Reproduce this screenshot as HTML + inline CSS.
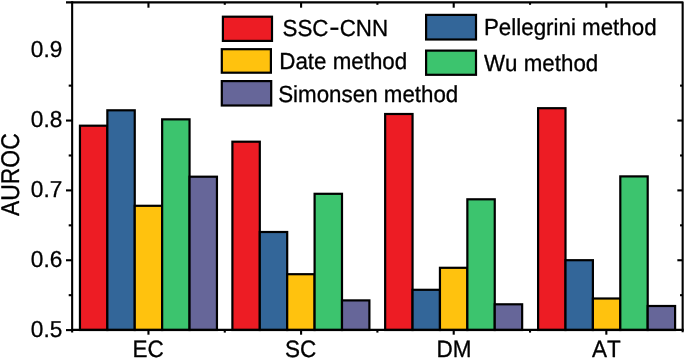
<!DOCTYPE html>
<html><head><meta charset="utf-8"><style>
html,body{margin:0;padding:0;background:#fff;width:685px;height:359px;overflow:hidden;font-family:"Liberation Sans",sans-serif;}
svg{display:block;will-change:transform;text-rendering:geometricPrecision}
text{font-kerning:none;font-feature-settings:"kern" 0;stroke:#000;stroke-width:0.3px;stroke-linejoin:round}
</style></head><body>
<svg width="685" height="359" viewBox="0 0 685 359">
<rect x="0" y="0" width="685" height="359" fill="#fff"/>
<rect x="79.95" y="125.70" width="27.40" height="204.30" fill="#ED1C24" stroke="#000" stroke-width="2.2"/>
<rect x="107.35" y="110.30" width="27.40" height="219.70" fill="#336699" stroke="#000" stroke-width="2.2"/>
<rect x="134.75" y="205.80" width="27.40" height="124.20" fill="#FFC20E" stroke="#000" stroke-width="2.2"/>
<rect x="162.15" y="119.35" width="27.40" height="210.65" fill="#3CC46E" stroke="#000" stroke-width="2.2"/>
<rect x="189.55" y="176.70" width="27.40" height="153.30" fill="#666699" stroke="#000" stroke-width="2.2"/>
<rect x="232.40" y="141.70" width="27.40" height="188.30" fill="#ED1C24" stroke="#000" stroke-width="2.2"/>
<rect x="259.80" y="232.00" width="27.40" height="98.00" fill="#336699" stroke="#000" stroke-width="2.2"/>
<rect x="287.20" y="274.20" width="27.40" height="55.80" fill="#FFC20E" stroke="#000" stroke-width="2.2"/>
<rect x="314.60" y="193.80" width="27.40" height="136.20" fill="#3CC46E" stroke="#000" stroke-width="2.2"/>
<rect x="342.00" y="300.40" width="27.40" height="29.60" fill="#666699" stroke="#000" stroke-width="2.2"/>
<rect x="385.15" y="114.00" width="27.40" height="216.00" fill="#ED1C24" stroke="#000" stroke-width="2.2"/>
<rect x="412.55" y="289.80" width="27.40" height="40.20" fill="#336699" stroke="#000" stroke-width="2.2"/>
<rect x="439.95" y="267.80" width="27.40" height="62.20" fill="#FFC20E" stroke="#000" stroke-width="2.2"/>
<rect x="467.35" y="199.30" width="27.40" height="130.70" fill="#3CC46E" stroke="#000" stroke-width="2.2"/>
<rect x="494.75" y="304.30" width="27.40" height="25.70" fill="#666699" stroke="#000" stroke-width="2.2"/>
<rect x="538.10" y="108.20" width="27.40" height="221.80" fill="#ED1C24" stroke="#000" stroke-width="2.2"/>
<rect x="565.50" y="260.20" width="27.40" height="69.80" fill="#336699" stroke="#000" stroke-width="2.2"/>
<rect x="592.90" y="298.50" width="27.40" height="31.50" fill="#FFC20E" stroke="#000" stroke-width="2.2"/>
<rect x="620.30" y="176.40" width="27.40" height="153.60" fill="#3CC46E" stroke="#000" stroke-width="2.2"/>
<rect x="647.70" y="306.00" width="27.40" height="24.00" fill="#666699" stroke="#000" stroke-width="2.2"/>
<g stroke="#000" stroke-width="2.1" fill="none" stroke-linecap="butt">
<path d="M66,2.35 L682.65,2.35 L682.65,332.3" stroke-linejoin="round"/>
<line x1="72.15" y1="1.3" x2="72.15" y2="332.6"/>
<line x1="71.10000000000001" y1="329.9" x2="683.6999999999999" y2="329.9"/>
<line x1="66" y1="330.10" x2="72.15" y2="330.10"/>
<line x1="68.7" y1="295.18" x2="72.15" y2="295.18"/>
<line x1="680.05" y1="295.18" x2="682.65" y2="295.18"/>
<line x1="66" y1="260.25" x2="72.15" y2="260.25"/>
<line x1="677.35" y1="260.25" x2="682.65" y2="260.25"/>
<line x1="68.7" y1="225.33" x2="72.15" y2="225.33"/>
<line x1="680.05" y1="225.33" x2="682.65" y2="225.33"/>
<line x1="66" y1="190.40" x2="72.15" y2="190.40"/>
<line x1="677.35" y1="190.40" x2="682.65" y2="190.40"/>
<line x1="68.7" y1="155.48" x2="72.15" y2="155.48"/>
<line x1="680.05" y1="155.48" x2="682.65" y2="155.48"/>
<line x1="66" y1="120.55" x2="72.15" y2="120.55"/>
<line x1="677.35" y1="120.55" x2="682.65" y2="120.55"/>
<line x1="68.7" y1="85.63" x2="72.15" y2="85.63"/>
<line x1="680.05" y1="85.63" x2="682.65" y2="85.63"/>
<line x1="148.46" y1="329.9" x2="148.46" y2="334.7"/>
<line x1="148.46" y1="2.35" x2="148.46" y2="7.7"/>
<line x1="301.09" y1="329.9" x2="301.09" y2="334.7"/>
<line x1="301.09" y1="2.35" x2="301.09" y2="7.7"/>
<line x1="453.71" y1="329.9" x2="453.71" y2="334.7"/>
<line x1="453.71" y1="2.35" x2="453.71" y2="7.7"/>
<line x1="606.34" y1="329.9" x2="606.34" y2="334.7"/>
<line x1="606.34" y1="2.35" x2="606.34" y2="7.7"/>
<line x1="224.78" y1="329.9" x2="224.78" y2="332.6"/>
<line x1="224.78" y1="2.35" x2="224.78" y2="4.8"/>
<line x1="377.40" y1="329.9" x2="377.40" y2="332.6"/>
<line x1="377.40" y1="2.35" x2="377.40" y2="4.8"/>
<line x1="530.02" y1="329.9" x2="530.02" y2="332.6"/>
<line x1="530.02" y1="2.35" x2="530.02" y2="4.8"/>
</g>
<text transform="translate(30.86,337.00) scale(1,1.02)" font-family="Liberation Sans, sans-serif" font-size="22.65">0.5</text>
<text transform="translate(30.86,267.00) scale(1,1.02)" font-family="Liberation Sans, sans-serif" font-size="22.65">0.6</text>
<text transform="translate(30.86,197.00) scale(1,1.02)" font-family="Liberation Sans, sans-serif" font-size="22.65">0.7</text>
<text transform="translate(30.86,127.00) scale(1,1.02)" font-family="Liberation Sans, sans-serif" font-size="22.65">0.8</text>
<text transform="translate(30.86,57.00) scale(1,1.02)" font-family="Liberation Sans, sans-serif" font-size="22.65">0.9</text>
<text transform="translate(19.00,216.00) rotate(-90) scale(1,1.12)" font-family="Liberation Sans, sans-serif" font-size="22.9">AUROC</text>
<text transform="translate(132.38,357.00) scale(1,1.05)" font-family="Liberation Sans, sans-serif" font-size="22.5">EC</text>
<text transform="translate(284.94,357.00) scale(1,1.05)" font-family="Liberation Sans, sans-serif" font-size="22.5">SC</text>
<text transform="translate(436.56,357.00) scale(1,1.05)" font-family="Liberation Sans, sans-serif" font-size="22.5">DM</text>
<text transform="translate(591.91,357.00) scale(1,1.05)" font-family="Liberation Sans, sans-serif" font-size="22.5">AT</text>
<rect x="222.90" y="16.70" width="49.10" height="24.20" fill="#ED1C24" stroke="#000" stroke-width="2.2"/>
<rect x="221.80" y="49.20" width="49.10" height="23.50" fill="#FFC20E" stroke="#000" stroke-width="2.2"/>
<rect x="221.80" y="81.10" width="49.40" height="24.40" fill="#666699" stroke="#000" stroke-width="2.2"/>
<rect x="426.10" y="14.90" width="49.90" height="24.60" fill="#336699" stroke="#000" stroke-width="2.2"/>
<rect x="426.10" y="50.60" width="49.90" height="24.20" fill="#3CC46E" stroke="#000" stroke-width="2.2"/>
<text transform="translate(282.49,36.00) scale(1,1.04)" font-family="Liberation Sans, sans-serif" font-size="22.35">SSC</text>
<rect x="330.4" y="27.6" width="8.0" height="2.3" fill="#000"/>
<text transform="translate(339.67,36.00) scale(1,1.04)" font-family="Liberation Sans, sans-serif" font-size="22.35">CNN</text>
<text transform="translate(279.27,69.00) scale(1,1.04)" font-family="Liberation Sans, sans-serif" font-size="22.35">Date method</text>
<text transform="translate(278.20,102.00) scale(1,1.04)" font-family="Liberation Sans, sans-serif" font-size="22.35">Simonsen method</text>
<text transform="translate(483.97,35.00) scale(1,1.04)" font-family="Liberation Sans, sans-serif" font-size="22.35">Pellegrini method</text>
<text transform="translate(484.00,71.00) scale(1,1.04)" font-family="Liberation Sans, sans-serif" font-size="22.35">Wu method</text>
</svg>
</body></html>
